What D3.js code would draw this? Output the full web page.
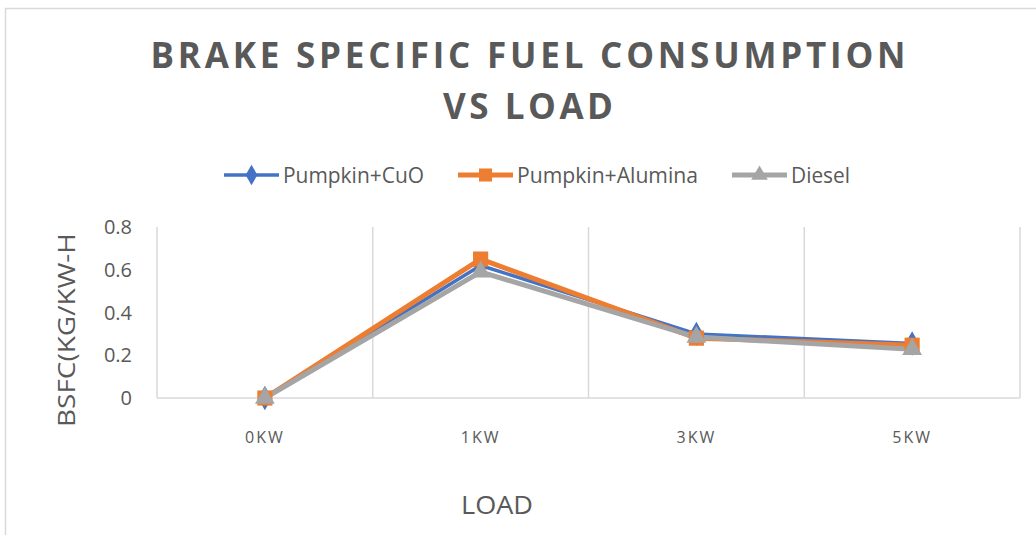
<!DOCTYPE html>
<html>
<head>
<meta charset="utf-8">
<script src="https://cdn.jsdelivr.net/npm/d3@7"></script>
<style>
  body { margin: 0; background: #fff; }
  text { font-family: "Open Sans", "Noto Sans", sans-serif; fill: #595959; }
</style>
</head>
<body>
<div id="chart"></div>
<script>
var loads = ["0KW", "1KW", "3KW", "5KW"];
var cuoValues = [0, 0.62, 0.30, 0.255];
var aluminaValues = [0, 0.65, 0.28, 0.247];
var dieselValues = [0, 0.59, 0.285, 0.228];
var yTicks = [0, 0.2, 0.4, 0.6, 0.8];

var series = [
  { name: "Pumpkin+CuO", values: cuoValues, color: "#4472C4", symbol: d3.symbolDiamond, width: 3.5, textW: 141 },
  { name: "Pumpkin+Alumina", values: aluminaValues, color: "#ED7D31", symbol: d3.symbolSquare, width: 5, textW: 181 },
  { name: "Diesel", values: dieselValues, color: "#A5A5A5", symbol: d3.symbolTriangle, width: 5, textW: 59 }
];

var W = 1036, H = 535;
var margins = { top: 227, right: 16, bottom: 137, left: 157 };

var svg = d3.select("#chart").append("svg")
  .attr("width", W)
  .attr("height", H);

// chart border
svg.append("rect")
  .attr("x", 5.5).attr("y", 8.5)
  .attr("width", W + 10).attr("height", H + 10)
  .style("fill", "none")
  .style("stroke", "#D9D9D9")
  .style("stroke-width", 1.5);

var x = d3.scaleBand()
  .domain(loads)
  .range([margins.left, W - margins.right]);

var y = d3.scaleLinear()
  .domain([0, 0.8])
  .range([H - margins.bottom, margins.top]);

// vertical gridlines at band edges
var edges = loads.map(d => x(d)).concat([x.range()[1]]);
svg.selectAll(".grid")
  .data(edges).join("line")
  .attr("class", "grid")
  .attr("x1", d => d).attr("x2", d => d)
  .attr("y1", y(0.8)).attr("y2", y(0))
  .style("stroke", "#D9D9D9")
  .style("stroke-width", 1.5);

svg.append("line")
  .attr("x1", x.range()[0]).attr("x2", x.range()[1])
  .attr("y1", y(0)).attr("y2", y(0))
  .style("stroke", "#D9D9D9")
  .style("stroke-width", 1.5);

// y tick labels
svg.selectAll(".ytick")
  .data(yTicks).join("text")
  .attr("class", "ytick")
  .attr("x", 132)
  .attr("y", d => y(d))
  .attr("dy", "0.35em")
  .attr("text-anchor", "end")
  .style("font-size", "20px")
  .text(d => d === 0 ? "0" : d.toFixed(1));

// x tick labels
svg.selectAll(".xtick")
  .data(loads).join("text")
  .attr("class", "xtick")
  .attr("x", d => x(d) + x.bandwidth() / 2)
  .attr("y", 443)
  .attr("text-anchor", "middle")
  .style("font-size", "16px")
  .style("letter-spacing", "2px")
  .text(d => d);

// titles
svg.selectAll(".title")
  .data([["BRAKE SPECIFIC FUEL CONSUMPTION", 755], ["VS LOAD", 170]]).join("text")
  .attr("class", "title")
  .attr("x", 528)
  .attr("y", (d, i) => 68 + i * 51)
  .attr("text-anchor", "middle")
  .attr("textLength", d => d[1])
  .attr("lengthAdjust", "spacing")
  .style("font-size", "35px")
  .style("font-weight", "bold")
  .text(d => d[0]);

svg.append("text")
  .attr("transform", "translate(75,330) rotate(-90)")
  .attr("text-anchor", "middle")
  .attr("textLength", 194)
  .attr("lengthAdjust", "spacingAndGlyphs")
  .style("font-size", "24px")
  .text("BSFC(KG/KW-H");

svg.append("text")
  .attr("x", 497)
  .attr("y", 514)
  .attr("text-anchor", "middle")
  .attr("textLength", 72)
  .attr("lengthAdjust", "spacingAndGlyphs")
  .style("font-size", "26px")
  .text("LOAD");

// lines
var line = d3.line()
  .x((d, i) => x(loads[i]) + x.bandwidth() / 2)
  .y(d => y(d));

svg.selectAll(".series")
  .data(series).join("path")
  .attr("class", "series")
  .attr("d", d => line(d.values))
  .style("fill", "none")
  .style("stroke", d => d.color)
  .style("stroke-width", d => d.width)
  .style("stroke-linejoin", "round");

series.forEach(function(s) {
  svg.selectAll(".mark-" + s.name.replace(/\W/g, ""))
    .data(s.values).join("path")
    .attr("transform", (d, i) => "translate(" + (x(loads[i]) + x.bandwidth() / 2) + "," + y(d) + ")")
    .attr("d", d3.symbol().type(s.symbol).size(s.symbol === d3.symbolSquare ? 230 : 170))
    .style("fill", s.color);
});

// legend
var legendX = [224, 458, 732];
var legend = svg.selectAll(".legend")
  .data(series).join("g")
  .attr("class", "legend")
  .attr("transform", (d, i) => "translate(" + legendX[i] + ",175)");

legend.append("line")
  .attr("x1", 0).attr("x2", 55)
  .style("stroke", d => d.color)
  .style("stroke-width", d => d.width);

legend.append("path")
  .attr("transform", "translate(27.5,0)")
  .attr("d", d => d3.symbol().type(d.symbol).size(d.symbol === d3.symbolSquare ? 170 : 120)())
  .style("fill", d => d.color);

legend.append("text")
  .attr("x", 59)
  .attr("dy", "0.35em")
  .attr("textLength", d => d.textW)
  .attr("lengthAdjust", "spacingAndGlyphs")
  .style("font-size", "22px")
  .text(d => d.name);
</script>
</body>
</html>
